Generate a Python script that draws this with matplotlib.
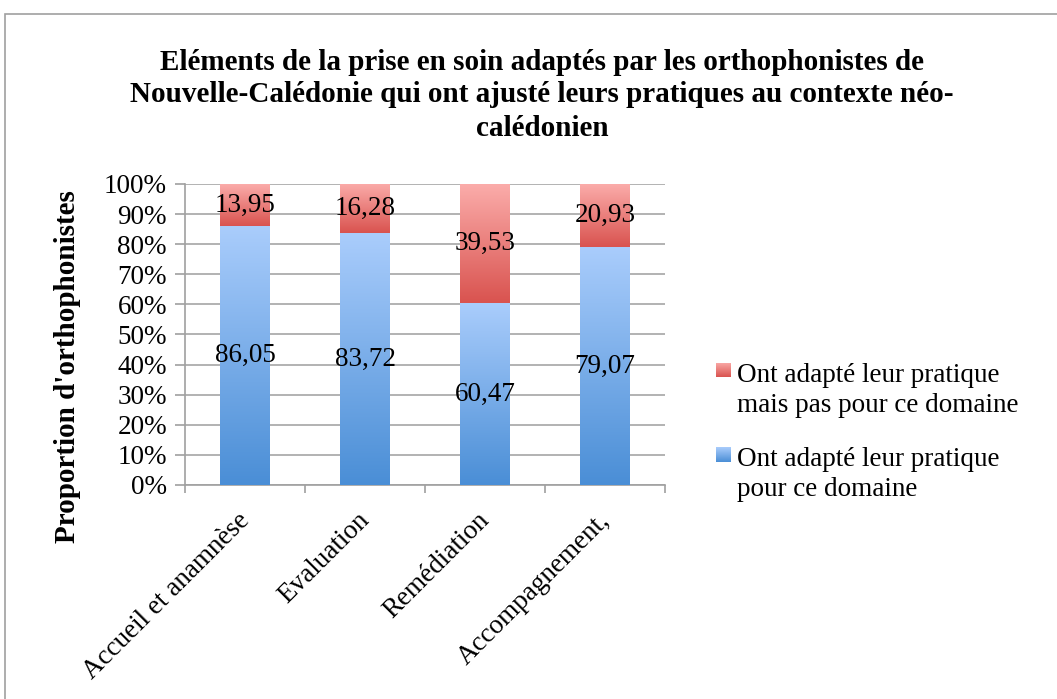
import numpy as np
import matplotlib
matplotlib.use("Agg")
import matplotlib.pyplot as plt
import matplotlib.transforms as mtransforms
from matplotlib.colors import LinearSegmentedColormap
from matplotlib.patches import Rectangle

categories = ["Accueil et anamnèse", "Evaluation", "Remédiation", "Accompagnement,"]
adapted_domain = [86.05, 83.72, 60.47, 79.07]
adapted_not_domain = [13.95, 16.28, 39.53, 20.93]
labels_domain = ["86,05", "83,72", "60,47", "79,07"]
labels_not = ["13,95", "16,28", "39,53", "20,93"]
series_names = [["Ont adapté leur pratique", "pour ce domaine"],
                ["Ont adapté leur pratique", "mais pas pour ce domaine"]]
title_lines = ["Eléments de la prise en soin adaptés par les orthophonistes de",
               "Nouvelle-Calédonie qui ont ajusté leurs pratiques au contexte néo-",
               "calédonien"]
ylabel = "Proportion d'orthophonistes"

W, H = 1057, 699
fig = plt.figure(figsize=(W / 100, H / 100), dpi=100)
serif = ["Liberation Serif", "DejaVu Serif"]
FS = 19.5

# outer frame
fig.patches.append(Rectangle((5 / W, -0.1), 1.2, (H - 14) / H + 0.1, transform=fig.transFigure,
                             fill=False, edgecolor="#a0a0a0", linewidth=1.2))

ax = fig.add_axes([185 / W, 1 - 485 / H, 480 / W, 301 / H])
x = np.arange(len(categories))
width = 0.41

blue_cmap = LinearSegmentedColormap.from_list("b", ["#4a8ed6", "#aacdfc"])
red_cmap = LinearSegmentedColormap.from_list("r", ["#d9534f", "#fbacaa"])

b1 = ax.bar(x, adapted_domain, width, color="#7aaee8", zorder=2)
b2 = ax.bar(x, adapted_not_domain, width, bottom=adapted_domain, color="#ec807d", zorder=2)

grad = np.linspace(0, 1, 256).reshape(-1, 1)
for bars, cmap in ((b1, blue_cmap), (b2, red_cmap)):
    for r in bars:
        x0, y0 = r.get_x(), r.get_y()
        w, h = r.get_width(), r.get_height()
        im = ax.imshow(grad, cmap=cmap, origin="lower", aspect="auto",
                       extent=(x0, x0 + w, y0, y0 + h), zorder=3, interpolation="bilinear")
        im.set_clip_path(r)

for i in range(len(categories)):
    ax.text(x[i], adapted_domain[i] / 2, labels_domain[i], ha="center", va="center",
            fontsize=FS, family=serif, zorder=5)
    ax.text(x[i], adapted_domain[i] + adapted_not_domain[i] / 2, labels_not[i], ha="center",
            va="center", fontsize=FS, family=serif, zorder=5)

ax.set_xlim(-0.5, len(categories) - 0.5)
ax.set_ylim(0, 100)
ax.set_yticks(np.arange(0, 101, 10))
ax.set_yticklabels([f"{v}%" for v in range(0, 101, 10)], family=serif, fontsize=FS)
ax.yaxis.grid(True, color="#a6a6a6", linewidth=1.2, zorder=0)
ax.set_axisbelow(True)

ax.set_xticks(np.arange(-0.5, len(categories), 1.0))
ax.set_xticklabels([])
ax.tick_params(axis="x", length=6, color="#a0a0a0", width=1.2)
ax.tick_params(axis="y", length=7, color="#a0a0a0", width=1.2, pad=6)

# category labels (rotated), anchored at their end below each bar
lab_tr = mtransforms.blended_transform_factory(ax.transData, ax.transAxes) + \
    mtransforms.ScaledTranslation(-8 / 100, -23 / 100, fig.dpi_scale_trans)
for i, cat in enumerate(categories):
    ax.text(x[i], 0, cat, transform=lab_tr, rotation=45, ha="right", va="top",
            rotation_mode="anchor", family=serif, fontsize=FS, clip_on=False)

for s in ("top", "right"):
    ax.spines[s].set_visible(False)
for s in ("left", "bottom"):
    ax.spines[s].set_color("#a0a0a0")
    ax.spines[s].set_linewidth(1.2)

for k, line in enumerate(title_lines):
    fig.text(542 / W, 1 - (62 + 33 * k) / H, line, ha="center", va="center", family=serif,
             fontweight="bold", fontsize=21)
fig.text(68 / W, 1 - 367 / H, ylabel, ha="center", va="center", rotation=90,
         family=serif, fontweight="bold", fontsize=21)

# legend
leg_items = [(series_names[1], 370, red_cmap), (series_names[0], 454, blue_cmap)]
for lines, ycen, cmap in leg_items:
    sq = fig.add_axes([716 / W, 1 - (ycen + 7.5) / H, 15 / W, 15 / H])
    sq.imshow(grad, cmap=cmap, origin="lower", aspect="auto", interpolation="bilinear")
    sq.axis("off")
    for k, line in enumerate(lines):
        fig.text(737 / W, 1 - (ycen + 5 + 30 * k) / H, line, ha="left", va="center",
                 family=serif, fontsize=FS)

fig.savefig("out.png", dpi=100)
